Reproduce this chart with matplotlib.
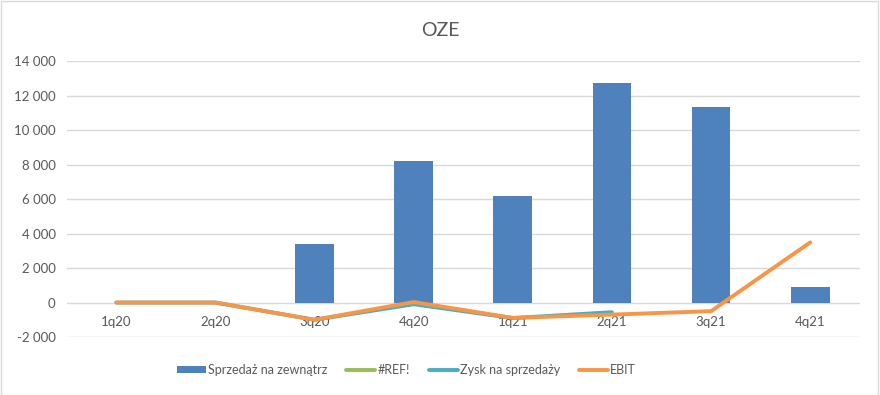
import numpy as np
import matplotlib.pyplot as plt
from matplotlib.patches import Rectangle
from matplotlib.ticker import FuncFormatter

plt.rcParams['font.family'] = ['Lato', 'DejaVu Sans']

# dane
kwartaly = ["1q20", "2q20", "3q20", "4q20", "1q21", "2q21", "3q21", "4q21"]
sprzedaz = [0, 0, 3420, 8230, 6200, 12750, 11350, 930]
ref_err = [np.nan] * 8
zysk_sprzedaz = [0, 0, -1000, -100, -900, -560, np.nan, np.nan]
ebit = [0, 0, -1000, 30, -890, -700, -500, 3490]

kolor_tekst = "#595959"
x = np.arange(len(kwartaly))

fig = plt.figure(figsize=(8.8, 3.95), dpi=100)
ax = fig.add_axes([0.0758, 0.1468, 0.9012, 0.698])

b = ax.bar(x, sprzedaz, width=0.39, color="#4f81bd", label="Sprzedaż na zewnątrz", zorder=2)
l1, = ax.plot(x, ref_err, color="#9bbb59", lw=2.8, label="#REF!", solid_capstyle="round", zorder=3)
l2, = ax.plot(x, zysk_sprzedaz, color="#4bacc6", lw=2.8, label="Zysk na sprzedaży", solid_capstyle="round", zorder=3)
l3, = ax.plot(x, ebit, color="#f79646", lw=2.8, label="EBIT", solid_capstyle="round", zorder=4)

ax.set_xlim(-0.5, 7.5)
ax.set_ylim(-2000, 14000)
ax.set_yticks(np.arange(-2000, 14001, 2000))
ax.yaxis.set_major_formatter(FuncFormatter(lambda v, p: f"{int(v):,}".replace(",", " ")))
ax.tick_params(axis="y", length=0, pad=8, labelsize=9.5, labelcolor=kolor_tekst)
ax.set_xticks([])
ax.grid(axis="y", color="#d9d9d9", lw=1, zorder=0)
for s in ax.spines.values():
    s.set_visible(False)

# etykiety kategorii przy osi zero
for i, k in enumerate(kwartaly):
    ax.annotate(k, (i, 0), xytext=(0, -14), textcoords="offset points",
                ha="center", va="center", fontsize=9.5, color=kolor_tekst)

fig.text(0.5, 1 - 30 / 395, "OZE", ha="center", va="center", fontsize=14, color=kolor_tekst)

fig.legend([b, l1, l2, l3], ["Sprzedaż na zewnątrz", "#REF!", "Zysk na sprzedaży", "EBIT"],
           loc="center", bbox_to_anchor=(0.462, 1 - 370 / 395), ncol=4, frameon=False,
           fontsize=9, labelcolor=kolor_tekst, handlelength=2.3, handleheight=0.5,
           handletextpad=0.2, columnspacing=1.5)

fig.patches.append(Rectangle((0.001, 0.001), 0.997, 0.997, transform=fig.transFigure,
                             fill=False, edgecolor="#d9d9d9", lw=1))

fig.savefig("out.png", dpi=100)
